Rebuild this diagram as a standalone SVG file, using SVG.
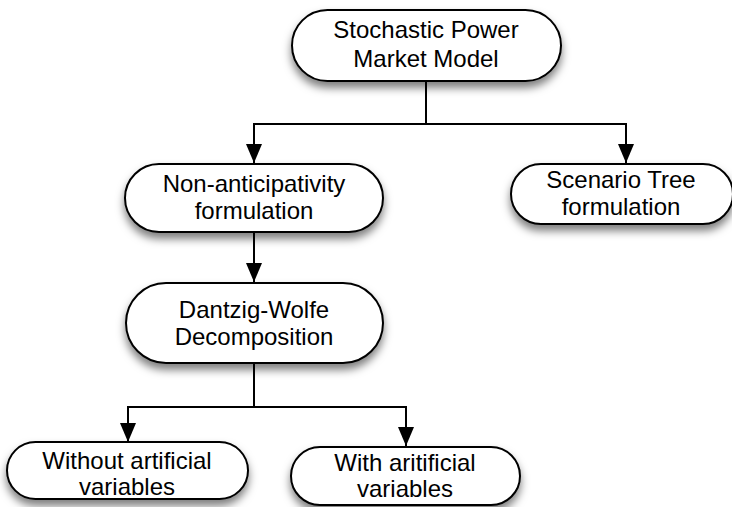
<svg xmlns="http://www.w3.org/2000/svg" width="732" height="507" viewBox="0 0 732 507">
<style>
.node rect{fill:#fff;stroke:#000;stroke-width:2;filter:url(#sh)}
.node text{font-family:"Liberation Sans",Arial,sans-serif;font-size:24px;fill:#000;text-anchor:middle}
.conn path{fill:none;stroke:#000;stroke-width:2}
</style>
<defs>
<filter id="sh" x="-20%" y="-30%" width="140%" height="180%">
<feDropShadow dx="0" dy="6" stdDeviation="4.5" flood-color="#000" flood-opacity="0.5"/>
</filter>
<marker id="ah" markerUnits="userSpaceOnUse" markerWidth="19" markerHeight="16" refX="19" refY="8" orient="auto" viewBox="0 0 19 16">
<path d="M0,0 L19,8 L0,16 Z" fill="#000"/>
</marker>
</defs>
<rect width="732" height="507" fill="#fff"/>
<g class="conn">
<path d="M426,81 V124"/>
<path d="M426,124 H254 V163" marker-end="url(#ah)"/>
<path d="M426,124 H626 V163" marker-end="url(#ah)"/>
<path d="M254,232 V282" marker-end="url(#ah)"/>
<path d="M254,363 V407"/>
<path d="M254,407 H128 V442" marker-end="url(#ah)"/>
<path d="M254,407 H406 V446" marker-end="url(#ah)"/>
</g>
<g id="n1" class="node">
<rect x="292" y="10" width="269" height="71" rx="35.5"/>
<text x="426" y="38">Stochastic Power</text>
<text x="426" y="67">Market Model</text>
</g>
<g id="n2" class="node">
<rect x="125" y="164" width="258" height="68" rx="34"/>
<text x="254" y="192">Non-anticipativity</text>
<text x="254" y="219">formulation</text>
</g>
<g id="n3" class="node">
<rect x="511" y="164" width="222" height="60" rx="30"/>
<text x="621" y="188">Scenario Tree</text>
<text x="621" y="215">formulation</text>
</g>
<g id="n4" class="node">
<rect x="126" y="283" width="257" height="80" rx="40"/>
<text x="254" y="318">Dantzig-Wolfe</text>
<text x="254" y="345">Decomposition</text>
</g>
<g id="n5" class="node">
<rect x="7" y="442" width="241" height="57" rx="28.5"/>
<text x="127" y="469">Without artificial</text>
<text x="127" y="495">variables</text>
</g>
<g id="n6" class="node">
<rect x="291" y="447" width="229" height="58" rx="29"/>
<text x="405" y="471">With aritificial</text>
<text x="405" y="497">variables</text>
</g>
</svg>
